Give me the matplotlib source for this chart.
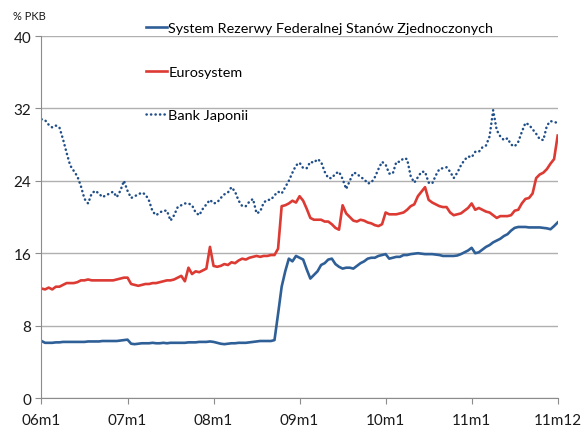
import numpy as np
import matplotlib
matplotlib.use("Agg")
from matplotlib import pyplot as plt

# half-month observations, 06m1 .. 11m12
months = np.arange(145) / 2

fed = [
    6.3, 6.1, 6.1, 6.1, 6.15, 6.15, 6.2, 6.2, 6.2, 6.2, 6.2, 6.2,
    6.2, 6.25, 6.25, 6.25, 6.25, 6.3, 6.3, 6.3, 6.3, 6.3, 6.35, 6.4,
    6.45, 6.0, 5.95, 6.0, 6.05, 6.05, 6.05, 6.1, 6.05, 6.05, 6.1, 6.05,
    6.1, 6.1, 6.1, 6.1, 6.1, 6.15, 6.15, 6.15, 6.2, 6.2, 6.2, 6.25,
    6.2, 6.1, 6.0, 5.95, 6.0, 6.05, 6.05, 6.1, 6.1, 6.1, 6.15, 6.2,
    6.25, 6.3, 6.3, 6.3, 6.3, 6.4, 9.3, 12.3, 14.0, 15.4, 15.1, 15.7,
    15.5, 15.3, 14.2, 13.2, 13.6, 14.0, 14.7, 14.9, 15.3, 15.4, 14.8, 14.5,
    14.3, 14.4, 14.4, 14.3, 14.6, 14.9, 15.1, 15.4, 15.5, 15.5, 15.7, 15.8,
    15.9, 15.4, 15.5, 15.6, 15.6, 15.8, 15.8, 15.9, 15.95, 16.0, 15.95, 15.9,
    15.9, 15.9, 15.85, 15.8, 15.7, 15.7, 15.7, 15.7, 15.75, 15.9, 16.1, 16.3,
    16.6, 16.0, 16.1, 16.4, 16.7, 16.9, 17.2, 17.4, 17.6, 17.9, 18.1, 18.5,
    18.8, 18.9, 18.9, 18.9, 18.85, 18.85, 18.85, 18.85, 18.8, 18.75, 18.65, 19.0,
    19.4,
]

euro = [
    12.1, 12.0, 12.2, 12.0, 12.3, 12.3, 12.5, 12.7, 12.7, 12.7, 12.8, 13.0,
    13.0, 13.1, 13.0, 13.0, 13.0, 13.0, 13.0, 13.0, 13.0, 13.1, 13.2, 13.3,
    13.3, 12.6, 12.5, 12.4, 12.5, 12.6, 12.6, 12.7, 12.7, 12.8, 12.9, 13.0,
    13.0, 13.1, 13.3, 13.5, 12.9, 14.4, 13.7, 14.0, 13.9, 14.1, 14.3, 16.7,
    14.6, 14.5, 14.6, 14.8, 14.7, 15.0, 14.9, 15.2, 15.4, 15.3, 15.5, 15.6,
    15.7, 15.6, 15.7, 15.7, 15.8, 15.8, 16.5, 21.2, 21.3, 21.5, 21.8, 21.6,
    22.3, 21.8, 20.9, 19.9, 19.7, 19.7, 19.7, 19.5, 19.5, 19.2, 18.8, 18.6,
    21.3, 20.4, 20.0, 19.6, 19.5, 19.7, 19.6, 19.4, 19.3, 19.1, 19.0, 19.2,
    20.5, 20.3, 20.3, 20.3, 20.4, 20.5, 20.8, 21.2, 21.4, 22.3, 22.8, 23.3,
    21.9, 21.6, 21.4, 21.2, 21.1, 21.1, 20.5, 20.2, 20.3, 20.4, 20.7, 21.0,
    21.5, 20.8, 21.0, 20.8, 20.6, 20.5, 20.2, 19.9, 20.1, 20.1, 20.1, 20.2,
    20.7, 20.8, 21.5, 22.0, 22.1, 22.6, 24.3, 24.7, 24.9, 25.3, 25.9, 26.4,
    29.0,
]

japan = [
    30.8, 30.7, 30.2, 29.9, 30.1, 29.9, 28.6, 27.1, 25.7, 25.1, 24.5, 23.4,
    22.0, 21.5, 22.6, 22.9, 22.6, 22.2, 22.4, 22.6, 22.8, 22.2, 22.9, 24.0,
    22.9, 22.1, 22.3, 22.5, 22.7, 22.5, 21.8, 20.6, 20.2, 20.5, 20.7, 20.7,
    19.6, 20.2, 21.1, 21.3, 21.5, 21.5, 21.3, 20.5, 20.2, 20.9, 21.4, 21.9,
    21.5, 21.6, 22.1, 22.5, 22.7, 23.3, 22.8, 21.8, 21.2, 21.2, 21.7, 22.0,
    20.4, 20.6, 21.6, 21.9, 21.9, 22.4, 22.8, 22.6, 23.3, 24.0, 24.9, 25.7,
    26.0, 25.4, 25.4, 26.1, 26.0, 26.4, 26.1, 25.0, 24.3, 24.3, 24.8, 25.0,
    24.2, 23.1, 24.0, 24.9, 24.8, 24.4, 24.2, 23.7, 23.8, 24.4, 25.3, 26.1,
    25.8, 24.8, 24.8, 26.1, 26.1, 26.5, 26.4, 24.5, 23.8, 24.4, 25.0, 25.0,
    23.8, 23.7, 24.6, 25.3, 25.4, 25.5, 25.0, 24.3, 24.9, 25.7, 26.3, 26.7,
    26.6, 27.2, 27.2, 27.7, 27.9, 28.9, 31.8, 29.6, 28.9, 28.5, 28.7, 28.0,
    27.8, 28.3, 29.4, 30.4, 30.2, 29.7, 29.2, 28.6, 28.5, 30.1, 30.6, 30.5,
    30.4,
]

tick_pos = [0, 12, 24, 36, 48, 60, 72]
tick_labels = ["06m1", "07m1", "08m1", "09m1", "10m1", "11m1", "11m12"]
y_ticks = [0, 8, 16, 24, 32, 40]

labels = ["System Rezerwy Federalnej Stanów Zjednoczonych", "Eurosystem", "Bank Japonii"]


def main():
    plt.rcParams["font.family"] = ["Lato", "DejaVu Sans"]
    fig = plt.figure(figsize=(5.82, 4.31), dpi=100)
    ax = fig.add_axes([0.0713, 0.0742, 0.8869, 0.8399])

    ax.plot(months, fed, color="#2F5F97", lw=1.9, label=labels[0])
    ax.plot(months, euro, color="#DC3A33", lw=1.9, label=labels[1])
    ax.plot(months, japan, color="#1F4E88", lw=1.8, linestyle=(0, (0.1, 1.7)),
            dash_capstyle="round", label=labels[2])

    ax.set_xlim(0, 72)
    ax.set_ylim(0, 40)
    ax.set_xticks(tick_pos)
    ax.set_xticklabels(tick_labels)
    ax.set_yticks(y_ticks)
    ax.grid(axis="y", color="#B0B0B0", lw=1)
    ax.set_axisbelow(True)
    for s in ["top", "right"]:
        ax.spines[s].set_visible(False)
    for s in ["left", "bottom"]:
        ax.spines[s].set_color("#8C8C8C")
    ax.tick_params(axis="both", colors="#8C8C8C", labelcolor="#1A1A1A",
                   labelsize=11, length=4)
    ax.tick_params(axis="x", pad=7)

    fig.text(13 / 582, 1 - 16 / 431, "% PKB", fontsize=8, va="center", color="#1A1A1A")

    ax.legend(loc="upper left", bbox_to_anchor=(146 / 582, 1 - 23 / 431),
              bbox_transform=fig.transFigure, frameon=False, fontsize=10.4,
              handlelength=1.45, handletextpad=0.1, labelspacing=2.18,
              borderpad=0, borderaxespad=0)

    plt.savefig("out.png")


if __name__ == '__main__':
    main()
